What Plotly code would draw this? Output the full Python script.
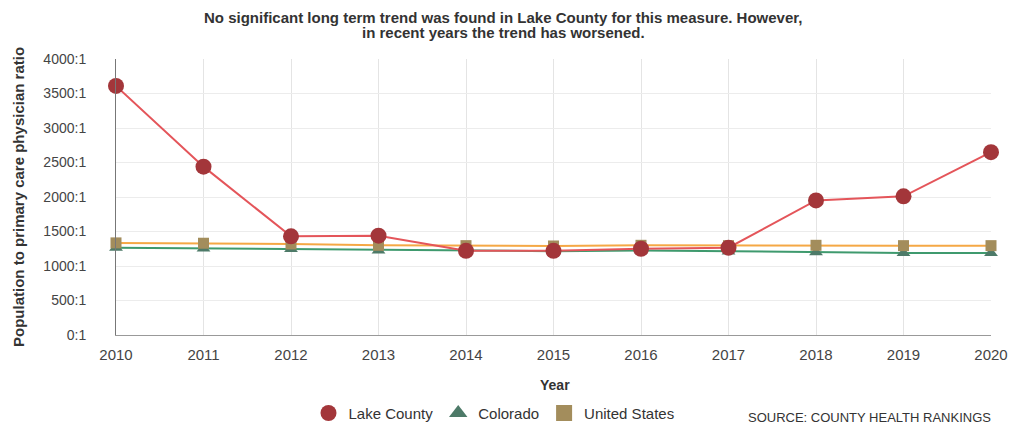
import plotly.graph_objects as go

years = list(range(2010, 2021))
lake_county = [3610, 2440, 1430, 1440, 1220, 1220, 1250, 1265, 1950, 2010, 2650]
colorado = [1265, 1255, 1245, 1225, 1225, 1215, 1225, 1210, 1200, 1190, 1190]
united_states = [1335, 1330, 1320, 1300, 1295, 1290, 1300, 1295, 1300, 1295, 1295]
y_ticks = [0, 500, 1000, 1500, 2000, 2500, 3000, 3500, 4000]
y_tick_labels = [f"{v}:1" for v in y_ticks]
title_lines = ["No significant long term trend was found in Lake County for this measure. However,",
               "in recent years the trend has worsened."]

LAKE_LINE, LAKE_MARK = "#e4555a", "#a3363a"
CO_LINE, CO_MARK = "#3f9a6e", "#4d7a68"
US_LINE, US_MARK = "#f5a845", "#a38d5c"

fig = go.Figure()
fig.add_trace(go.Scatter(x=years, y=colorado, name="Colorado", mode="lines+markers",
                         line=dict(color=CO_LINE, width=2),
                         marker=dict(symbol="triangle-up", size=12, color=CO_MARK),
                         cliponaxis=False, showlegend=False))
fig.add_trace(go.Scatter(x=years, y=united_states, name="United States", mode="lines+markers",
                         line=dict(color=US_LINE, width=2),
                         marker=dict(symbol="square", size=11, color=US_MARK),
                         cliponaxis=False, showlegend=False))
fig.add_trace(go.Scatter(x=years, y=lake_county, name="Lake County", mode="lines+markers",
                         line=dict(color=LAKE_LINE, width=2),
                         marker=dict(symbol="circle", size=16, color=LAKE_MARK),
                         cliponaxis=False, showlegend=False))
# legend entries
fig.add_trace(go.Scatter(x=[None], y=[None], name="Lake County", mode="markers",
                         marker=dict(symbol="circle", size=20, color=LAKE_MARK)))
fig.add_trace(go.Scatter(x=[None], y=[None], name="Colorado", mode="markers",
                         marker=dict(symbol="triangle-up", size=18, color=CO_MARK)))
fig.add_trace(go.Scatter(x=[None], y=[None], name="United States", mode="markers",
                         marker=dict(symbol="square", size=17, color=US_MARK)))

fig.update_layout(
    width=1000, height=418,
    margin=dict(l=108, r=17, t=51, b=91, autoexpand=False),
    paper_bgcolor="white", plot_bgcolor="white",
    font=dict(family="Liberation Sans, Arial, sans-serif", size=14, color="#333333"),
    xaxis=dict(range=[2010, 2020], tickmode="array", tickvals=years,
               ticktext=[str(y) for y in years],
               showgrid=True, gridcolor="#e4e4e4", zeroline=False,
               showline=True, linecolor="#999999", linewidth=1,
               ticks="", ticklabelstandoff=6,
               tickfont=dict(size=15, color="#444444")),
    yaxis=dict(range=[0, 4000], tickmode="array", tickvals=y_ticks, ticktext=y_tick_labels,
               showgrid=True, gridcolor="#ececec", zeroline=False,
               showline=True, linecolor="#777777", linewidth=1,
               ticks="", ticklabelstandoff=26,
               tickfont=dict(size=14, color="#444444")),
    legend=dict(orientation="h", x=0.432, xanchor="center", y=-0.2836, yanchor="middle",
                font=dict(size=15, color="#333333"), itemwidth=30, tracegroupgap=0),
)
fig.add_annotation(text=f"<b>{title_lines[0]}</b>", xref="paper", yref="paper",
                   x=0.4423, y=1.1509, xanchor="center", yanchor="middle", showarrow=False,
                   font=dict(size=15, color="#333333"))
fig.add_annotation(text=f"<b>{title_lines[1]}</b>", xref="paper", yref="paper",
                   x=0.4423, y=1.0945, xanchor="center", yanchor="middle", showarrow=False,
                   font=dict(size=15, color="#333333"))
fig.add_annotation(text="<b>Population to primary care physician ratio</b>", xref="paper", yref="paper",
                   x=-0.112, y=0.5, xanchor="center", yanchor="middle", textangle=-90, showarrow=False,
                   font=dict(size=15, color="#333333"))
fig.add_annotation(text="<b>Year</b>", xref="paper", yref="paper",
                   x=0.5017, y=-0.1818, xanchor="center", yanchor="middle", showarrow=False,
                   font=dict(size=14, color="#333333"))
fig.add_annotation(text="SOURCE: COUNTY HEALTH RANKINGS", xref="paper", yref="paper",
                   x=0.72, y=-0.3345, xanchor="left", yanchor="bottom", showarrow=False,
                   font=dict(size=13, color="#333333"))
fig.write_html("out.html")
